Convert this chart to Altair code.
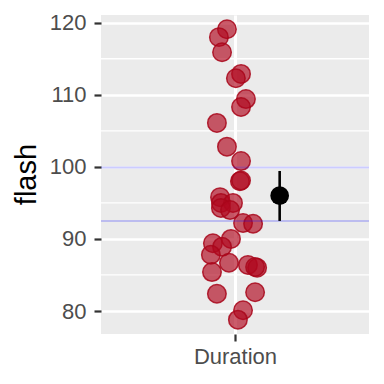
import altair as alt
import pandas as pd

# jittered x positions (category "Duration" at 1) and flash values
jitter_x = [0.964, 0.928, 0.942, 1.027, 1.004, 1.049, 1.027, 0.919, 0.964, 1.027,
            1.022, 1.027, 0.933, 0.937, 0.991, 0.937, 0.978, 1.036, 1.081, 0.982,
            0.901, 0.942, 0.892, 0.973, 1.058, 1.099, 1.090, 0.897, 0.919, 1.090,
            1.036, 1.013]
flash = [119.1, 118.0, 115.9, 112.9, 112.3, 109.4, 108.3, 106.1, 102.8, 100.8,
         98.0, 98.1, 95.8, 95.0, 95.0, 94.3, 94.0, 92.2, 92.1, 90.0,
         89.4, 88.9, 87.8, 86.7, 86.4, 86.0, 86.1, 85.4, 82.4, 82.6,
         80.1, 78.8]

summary_x = [1.2]
summary_mean = [96.0]
summary_low = [92.5]
summary_high = [99.43]

hlines = [92.5, 99.9]
minor_grid = [85, 95, 105, 115]
y_ticks = [80, 90, 100, 110, 120]

pts = pd.DataFrame({"x": jitter_x, "flash": flash})
summ = pd.DataFrame({"x": summary_x, "m": summary_mean, "lo": summary_low, "hi": summary_high})
hl = pd.DataFrame({"y": hlines})
mg = pd.DataFrame({"y": minor_grid})

FONT = "Liberation Sans"
xscale = alt.Scale(domain=[0.4, 1.6], nice=False, zero=False)
yscale = alt.Scale(domain=[76.81, 121.07], nice=False, zero=False)

xaxis = alt.Axis(values=[1], labelExpr="'Duration'", title=None, grid=True,
                 gridColor="white", gridWidth=3, domain=False,
                 tickColor="#333333", tickSize=7, tickWidth=2.2,
                 labelColor="#4D4D4D", labelFontSize=22, labelFont=FONT,
                 labelPadding=5)
yaxis = alt.Axis(values=y_ticks, title="flash", grid=True, gridColor="white",
                 gridWidth=2.6, domain=False, tickColor="#333333", tickSize=7,
                 tickWidth=2.2, labelColor="#4D4D4D", labelFontSize=22,
                 labelFont=FONT, labelPadding=8, titleFont=FONT,
                 titleFontSize=29, titleFontWeight="normal", titleColor="black",
                 titleX=-66, titleY=159, titleBaseline="alphabetic",
                 titleAlign="center", titleAngle=270)

minor = alt.Chart(mg).mark_rule(color="white", strokeWidth=1.3).encode(
    y=alt.Y("y:Q", scale=yscale, axis=yaxis)
)

points = alt.Chart(pts).mark_circle(
    size=342, color="#B0081E", opacity=1, fillOpacity=0.66,
    stroke="#A8061A", strokeOpacity=0.85, strokeWidth=1.5
).encode(
    x=alt.X("x:Q", scale=xscale, axis=xaxis),
    y=alt.Y("flash:Q", scale=yscale, axis=yaxis),
)

lines = alt.Chart(hl).mark_rule(color="blue", opacity=0.2, strokeWidth=2).encode(
    y=alt.Y("y:Q", scale=yscale)
)

ebar = alt.Chart(summ).mark_rule(color="black", strokeWidth=2.6).encode(
    x=alt.X("x:Q", scale=xscale), y=alt.Y("lo:Q", scale=yscale), y2="hi:Q"
)
mpt = alt.Chart(summ).mark_circle(size=350, color="black", opacity=1).encode(
    x=alt.X("x:Q", scale=xscale), y=alt.Y("m:Q", scale=yscale)
)

chart = alt.layer(minor, points, lines, ebar, mpt).properties(
    width=268, height=319,
    autosize=alt.AutoSizeParams(type="none"),
    padding={"left": 101, "top": 15, "right": 15, "bottom": 50},
    background="white",
).configure_view(fill="#EBEBEB", stroke=None)

chart.save("out.html", embed_options={"renderer": "svg", "actions": False})
